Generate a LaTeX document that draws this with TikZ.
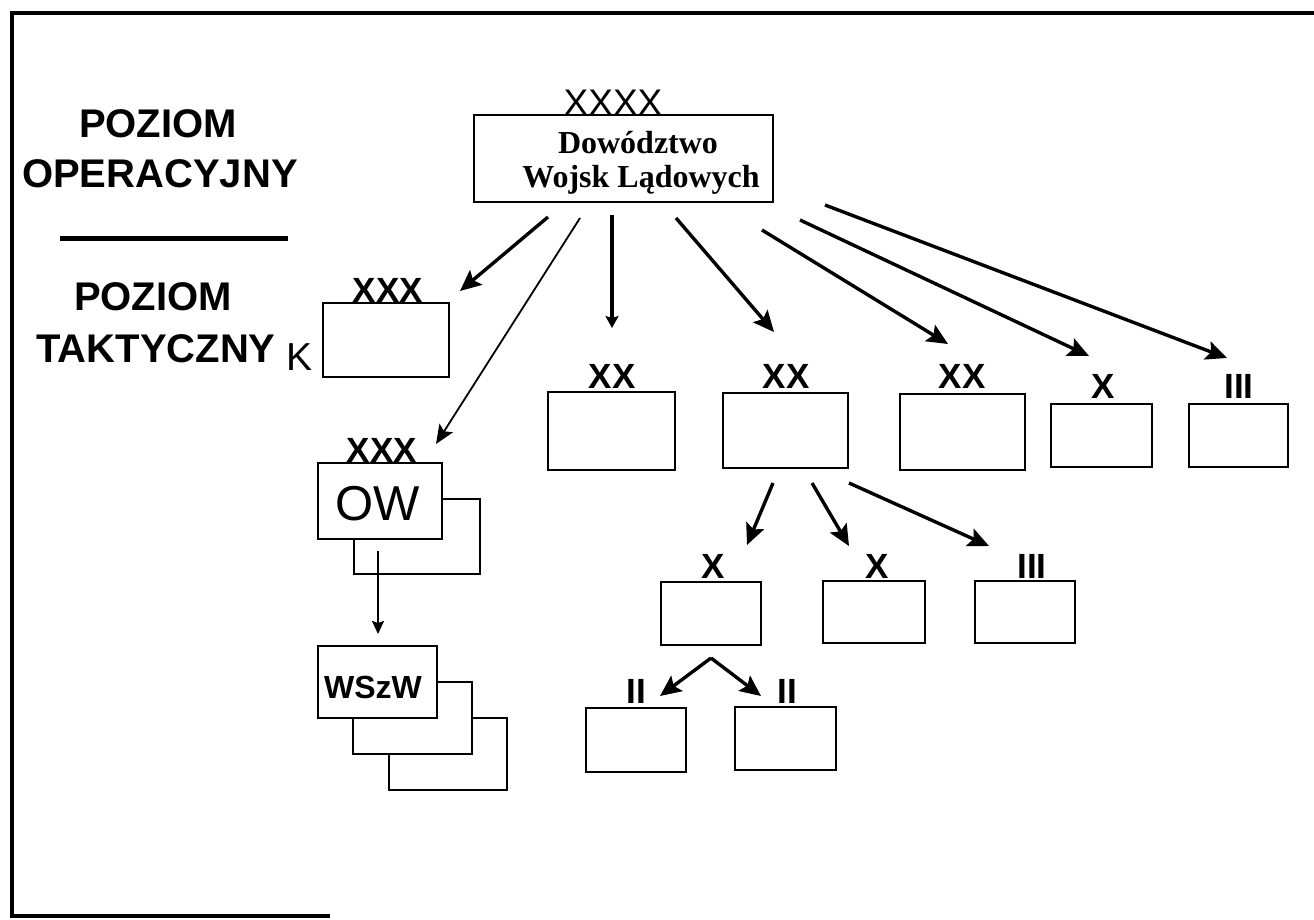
\documentclass[tikz,border=0pt]{standalone}
\usepackage{fontspec}
\setmainfont{Liberation Serif}
\setsansfont{Liberation Sans}
\usetikzlibrary{arrows.meta}
\begin{document}
\begin{tikzpicture}[x=1pt,y=-1pt,
  box/.style={draw,line width=1.6pt,inner sep=0pt,outer sep=0pt,anchor=north west,fill=white},
  lbl/.style={font=\sffamily\bfseries\fontsize{35}{40}\selectfont,anchor=base,inner sep=0pt},
  biglbl/.style={font=\sffamily\bfseries\fontsize{40}{48}\selectfont,anchor=base,inner sep=0pt},
  arr/.style={line width=3.4pt,-{Stealth[length=21pt,width=19pt,inset=4pt]}},
  thinarr/.style={line width=1.8pt,-{Stealth[length=19pt,width=16pt,inset=4pt]}},
  smallarr/.style={line width=3.2pt,-{Stealth[length=12pt,width=13pt,inset=2pt]}},
  frame/.style={line width=3.5pt}]
\useasboundingbox (0,0) rectangle (1314,919);
% frame
\coordinate (ftl) at (12,13);
\coordinate (ftr) at (1314,13);
\coordinate (fbl) at (12,916);
\coordinate (fbr) at (330,916);
\draw[frame] (ftr) -- (ftl) -- (fbl) -- (fbr);

% left labels
\node[biglbl] (po1) at (158,137) {POZIOM};
\node[biglbl] (op) at (160,187) {OPERACYJNY};
\coordinate (sepl) at (60,238);
\coordinate (sepr) at (288,238);
\draw[line width=5pt] (sepl) -- (sepr);
\node[biglbl] (po2) at (153,310) {POZIOM};
\node[biglbl] (tak) at (156,362) {TAKTYCZNY};
\node[font=\sffamily\fontsize{39}{44}\selectfont,anchor=base,inner sep=0pt] (klbl) at (300,370) {K};

% main box
\node[box,minimum width=299pt,minimum height=87pt] (dwl) at (474,115) {};
\node[font=\sffamily\fontsize{37}{40}\selectfont,anchor=base,inner sep=0pt] (x4) at (613,115) {XXXX};
\node[font=\rmfamily\bfseries\fontsize{32}{36}\selectfont,anchor=base,inner sep=0pt] (dwl1) at (638,153) {Dowództwo};
\node[font=\rmfamily\bfseries\fontsize{32}{36}\selectfont,anchor=base,inner sep=0pt] (dwl2) at (641,187) {Wojsk Lądowych};

% K box
\node[box,minimum width=126pt,minimum height=74pt] (kbox) at (323,303) {};
\node[lbl] (kl) at (388,302) {XXX};

% OW
\node[box,minimum width=126pt,minimum height=75pt] (owback) at (354,499) {};
\node[box,minimum width=124pt,minimum height=76pt] (ow) at (318,463) {};
\node[font=\sffamily\fontsize{49}{52}\selectfont,anchor=base,inner sep=0pt] (owt) at (378,520) {OW};
\node[lbl] (owl) at (382,462) {XXX};

% WSzW stack
\node[box,minimum width=118pt,minimum height=72pt] (ws3) at (389,718) {};
\node[box,minimum width=119pt,minimum height=72pt] (ws2) at (353,682) {};
\node[box,minimum width=119pt,minimum height=72pt] (ws1) at (318,646) {};
\node[font=\sffamily\bfseries\fontsize{32}{36}\selectfont,anchor=base,inner sep=0pt] (wst) at (373,698) {WSzW};

% row 2 boxes
\node[box,minimum width=127pt,minimum height=78pt] (xx1) at (548,392) {};
\node[lbl] (xx1l) at (612,388) {XX};
\node[box,minimum width=125pt,minimum height=75pt] (xx2) at (723,393) {};
\node[lbl] (xx2l) at (786,388) {XX};
\node[box,minimum width=125pt,minimum height=76pt] (xx3) at (900,394) {};
\node[lbl] (xx3l) at (962,388) {XX};
\node[box,minimum width=101pt,minimum height=63pt] (xb) at (1051,404) {};
\node[lbl] (xbl) at (1103,398) {X};
\node[box,minimum width=99pt,minimum height=63pt] (iiib) at (1189,404) {};
\node[lbl] (iiibl) at (1239,398) {III};

% row 3 boxes
\node[box,minimum width=100pt,minimum height=63pt] (x1) at (661,582) {};
\node[lbl] (x1l) at (713,578) {X};
\node[box,minimum width=102pt,minimum height=62pt] (x2) at (823,581) {};
\node[lbl] (x2l) at (877,578) {X};
\node[box,minimum width=100pt,minimum height=62pt] (iii2) at (975,581) {};
\node[lbl] (iii2l) at (1032,578) {III};

% row 4 boxes
\node[box,minimum width=100pt,minimum height=64pt] (ii1) at (586,708) {};
\node[lbl] (ii1l) at (636,703) {II};
\node[box,minimum width=101pt,minimum height=63pt] (ii2) at (735,707) {};
\node[lbl] (ii2l) at (787,703) {II};

% arrow end points
\coordinate (a1s) at (548,217); \coordinate (a1e) at (460,291);
\coordinate (a2s) at (580,218); \coordinate (a2e) at (436,444);
\coordinate (a3s) at (612,215); \coordinate (a3e) at (612,328);
\coordinate (a4s) at (676,218); \coordinate (a4e) at (774,332);
\coordinate (a5s) at (762,230); \coordinate (a5e) at (948,344);
\coordinate (a6s) at (800,220); \coordinate (a6e) at (1089,356);
\coordinate (a7s) at (825,205); \coordinate (a7e) at (1227,358);
\coordinate (a8s) at (378,551); \coordinate (a8e) at (378,634);
\coordinate (b1s) at (773,483); \coordinate (b1e) at (747,545);
\coordinate (b2s) at (812,483); \coordinate (b2e) at (849,546);
\coordinate (b3s) at (849,483); \coordinate (b3e) at (989,546);
\coordinate (capex) at (711,658);
\coordinate (c1e) at (660,696); \coordinate (c2e) at (761,696);

\draw[arr] (a1s) -- (a1e);
\draw[thinarr] (a2s) -- (a2e);
\draw[smallarr] (a3s) -- (a3e);
\draw[arr] (a4s) -- (a4e);
\draw[arr] (a5s) -- (a5e);
\draw[arr] (a6s) -- (a6e);
\draw[arr] (a7s) -- (a7e);
\draw[line width=2.2pt,-{Stealth[length=13pt,width=12pt,inset=2pt]}] (a8s) -- (a8e);
\draw[arr] (b1s) -- (b1e);
\draw[arr] (b2s) -- (b2e);
\draw[arr] (b3s) -- (b3e);
\draw[arr] (capex) -- (c1e);
\draw[arr] (capex) -- (c2e);
\end{tikzpicture}
\end{document}
